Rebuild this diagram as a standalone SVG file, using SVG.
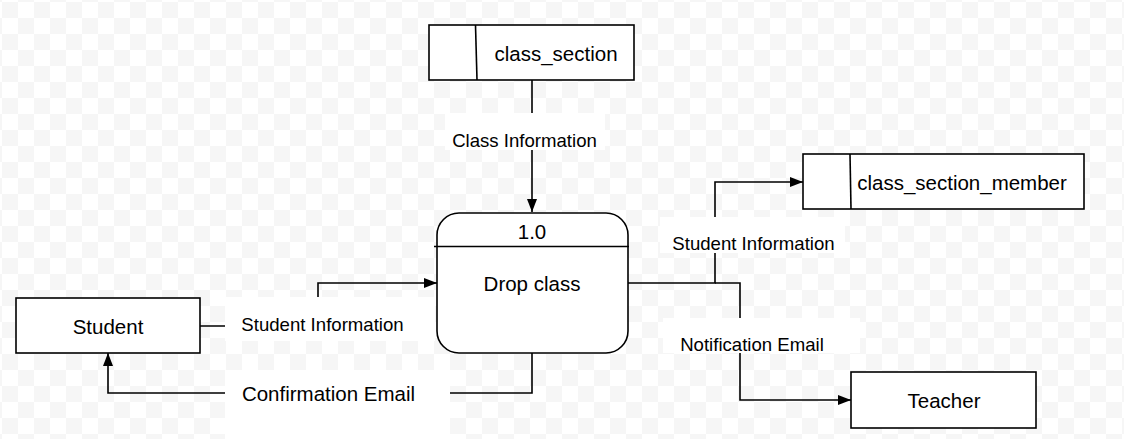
<svg xmlns="http://www.w3.org/2000/svg" width="1124" height="439" viewBox="0 0 1124 439">
<defs>
<pattern id="checker" x="2" y="2" width="32" height="32" patternUnits="userSpaceOnUse">
<rect width="32" height="32" fill="#ffffff"/>
<rect x="0" y="0" width="16" height="16" fill="#f6f6f6"/>
<rect x="16" y="16" width="16" height="16" fill="#f6f6f6"/>
</pattern>
<marker id="arrow" viewBox="0 0 13 10" refX="13" refY="5" markerWidth="13" markerHeight="10" markerUnits="userSpaceOnUse" orient="auto">
<path d="M0,0 L13,5 L0,10 Z" fill="#000"/>
</marker>
<style>
.box{fill:#fff;stroke:#000;stroke-width:1.6}
.line{fill:none;stroke:#000;stroke-width:1.6}
.node{font-family:"Liberation Sans",Arial,sans-serif;font-size:20.5px;fill:#000;text-anchor:middle}
.lbl{font-family:"Liberation Sans",Arial,sans-serif;font-size:18.6px;fill:#000;text-anchor:middle}
.lblbg{fill:#fff}
</style>
</defs>
<rect width="1124" height="439" fill="url(#checker)"/>

<g id="connectors">
<path class="line" d="M532,80 V212" marker-end="url(#arrow)"/>
<path class="line" d="M628,283 H715 V182 H803" marker-end="url(#arrow)"/>
<path class="line" d="M715,283 H740 V400 H851" marker-end="url(#arrow)"/>
<path class="line" d="M200,326 H318 V283 H437" marker-end="url(#arrow)"/>
<path class="line" d="M532,353 V393 H108 V353" marker-end="url(#arrow)"/>
</g>

<g id="labels">
<rect class="lblbg" x="445" y="113" width="160" height="37"/>
<text class="lbl" x="524.5" y="146.5">Class Information</text>
<rect class="lblbg" x="660" y="217" width="185" height="36"/>
<text class="lbl" x="753.5" y="249.5">Student Information</text>
<rect class="lblbg" x="663" y="318" width="197" height="35"/>
<text class="lbl" x="752" y="350.5">Notification Email</text>
<rect class="lblbg" x="225" y="297" width="210" height="44"/>
<text class="lbl" x="322.5" y="330.5">Student Information</text>
<rect class="lblbg" x="225" y="370" width="225" height="69"/>
<text class="node" x="328.5" y="400.5">Confirmation Email</text>
</g>

<g id="class_section">
<rect class="box" x="429" y="25" width="205" height="55"/>
<line class="line" x1="475.5" y1="25" x2="477" y2="80"/>
<text class="node" x="556" y="61">class_section</text>
</g>

<g id="class_section_member">
<rect class="box" x="803" y="154" width="281" height="55"/>
<line class="line" x1="850" y1="154" x2="851" y2="209"/>
<text class="node" x="962" y="189.5">class_section_member</text>
</g>

<g id="process_1_0">
<rect class="box" x="437" y="213" width="191" height="140" rx="22" ry="22"/>
<line class="line" x1="434" y1="246.5" x2="629" y2="246.5"/>
<text class="node" x="532" y="239">1.0</text>
<text class="node" x="532" y="290.5">Drop class</text>
</g>

<g id="student">
<rect class="box" x="16" y="298" width="184" height="55"/>
<text class="node" x="108" y="333.5">Student</text>
</g>

<g id="teacher">
<rect class="box" x="851" y="372" width="185" height="56"/>
<text class="node" x="944" y="407.5">Teacher</text>
</g>
</svg>
